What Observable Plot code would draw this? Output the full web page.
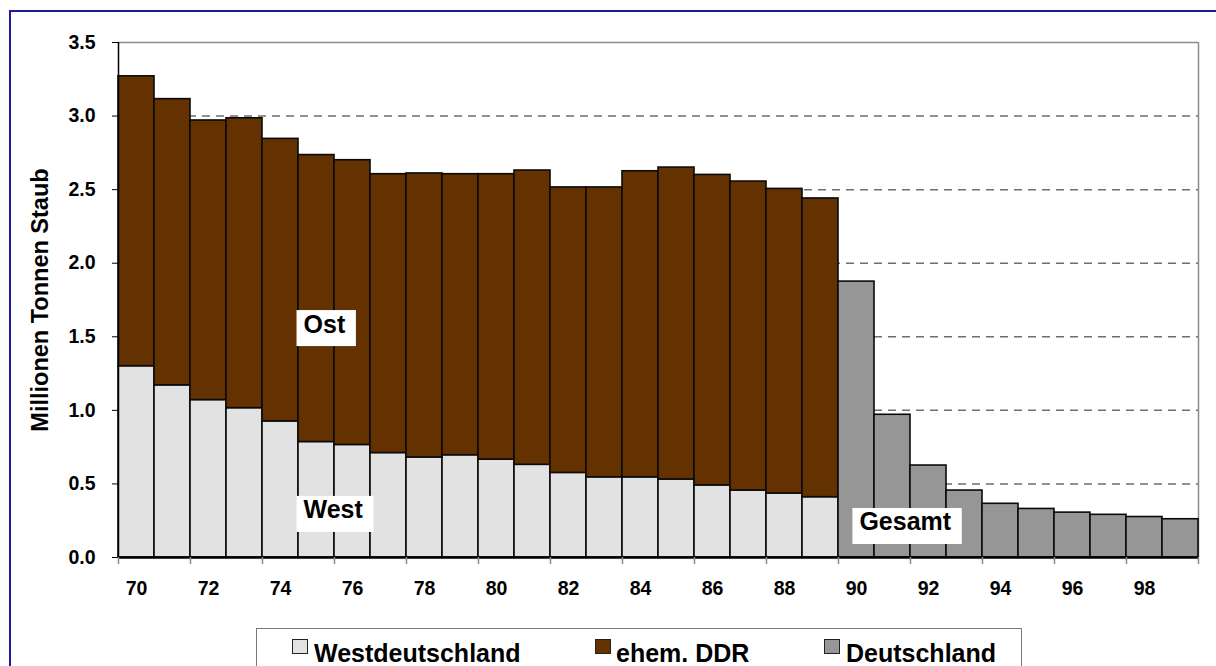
<!DOCTYPE html>
<html>
<head>
<meta charset="utf-8">
<script src="https://cdn.jsdelivr.net/npm/d3@7"></script>
<script src="https://cdn.jsdelivr.net/npm/@observablehq/plot@0.6"></script>
<style>
  body { margin: 0; background: #fff; font-family: "Liberation Sans", Arial, sans-serif; }
  #wrap { position: relative; width: 1216px; height: 666px; overflow: hidden; background: #fff; }
  #frame { position: absolute; left: 9px; top: 10px; width: 1400px; height: 900px;
           border-top: 2px solid #1c1c96; border-left: 2px solid #1c1c96; }
  #chart { position: absolute; left: 0; top: 0; }
  #legend { position: absolute; left: 256px; top: 628px; width: 764px; height: 60px;
            border: 1px solid #7a7a7a; background: #fff; }
  .sw { position: absolute; top: 10px; width: 16px; height: 15px; box-sizing: border-box; border: 1.5px solid #222; }
  .lt { position: absolute; top: 12px; font-size: 25px; line-height: 25px; font-weight: bold; color: #000; white-space: nowrap; }
</style>
</head>
<body>
<div id="wrap">
  <div id="frame"></div>
  <div id="chart"></div>
  <div id="legend"></div>
</div>
<script>
// ---- data ----
const yearsSplit = [1970, 1971, 1972, 1973, 1974, 1975, 1976, 1977, 1978, 1979,
                    1980, 1981, 1982, 1983, 1984, 1985, 1986, 1987, 1988, 1989];
const westValues = [1.30, 1.17, 1.07, 1.015, 0.925, 0.785, 0.765, 0.71, 0.68, 0.695,
                    0.665, 0.63, 0.575, 0.545, 0.545, 0.53, 0.49, 0.455, 0.435, 0.41];
const ostValues  = [1.97, 1.945, 1.90, 1.97, 1.92, 1.95, 1.935, 1.895, 1.93, 1.91,
                    1.94, 2.00, 1.94, 1.97, 2.08, 2.12, 2.11, 2.10, 2.07, 2.03];
const yearsUnified = [1990, 1991, 1992, 1993, 1994, 1995, 1996, 1997, 1998, 1999];
const gesamtValues = [1.875, 0.97, 0.625, 0.455, 0.365, 0.33, 0.305, 0.29, 0.275, 0.26];

const yTicks = [0, 0.5, 1.0, 1.5, 2.0, 2.5, 3.0, 3.5];
const gridTicks = [0.5, 1.0, 1.5, 2.0, 2.5, 3.0];
const xBoundaryTicks = [1970, 1972, 1974, 1976, 1978, 1980, 1982, 1984, 1986, 1988,
                        1990, 1992, 1994, 1996, 1998, 2000];
const xLabelYears = [1970, 1972, 1974, 1976, 1978, 1980, 1982, 1984, 1986, 1988,
                     1990, 1992, 1994, 1996, 1998];
const xLabels = ["70", "72", "74", "76", "78", "80", "82", "84", "86", "88",
                 "90", "92", "94", "96", "98"];

const seriesNames = ["Westdeutschland", "ehem. DDR", "Deutschland"];
const seriesColors = ["#e2e2e2", "#643200", "#969696"];

const labelTexts = ["Ost", "West", "Gesamt"];
const labelX = [1975.14, 1975.14, 1990.58];
const labelY = [1.583, 0.32, 0.238];

const yTitle = "Millionen Tonnen Staub";

// ---- tables ----
const westRows = yearsSplit.map((yr, i) => ({x1: yr, x2: yr + 1, y1: 0, y2: westValues[i]}));
const ostRows = yearsSplit.map((yr, i) => ({x1: yr, x2: yr + 1, y1: westValues[i], y2: westValues[i] + ostValues[i]}));
const gesamtRows = yearsUnified.map((yr, i) => ({x1: yr, x2: yr + 1, y1: 0, y2: gesamtValues[i]}));
const labelRows = labelTexts.map((t, i) => ({t, x: labelX[i], y: labelY[i]}));

const barStroke = {stroke: "#0a0a0a", strokeWidth: 1.6};

const plot = Plot.plot({
  width: 1216,
  height: 620,
  marginLeft: 118,
  marginRight: 18,
  marginTop: 42,
  marginBottom: 63,
  x: {domain: [1970, 2000]},
  y: {domain: [0, 3.5]},
  style: {fontFamily: "'Liberation Sans', Arial, sans-serif", fontWeight: "bold", background: "transparent", overflow: "visible", color: "#000"},
  marks: [
    Plot.ruleY(gridTicks, {stroke: "#6e6e6e", strokeWidth: 1.5, strokeDasharray: "8,6"}),
    Plot.ruleY([3.5], {stroke: "#8c8c8c", strokeWidth: 1.5}),
    Plot.ruleX([2000], {y1: 0, y2: 3.5, stroke: "#8c8c8c", strokeWidth: 1.5}),
    Plot.rect(westRows, {x1: "x1", x2: "x2", y1: "y1", y2: "y2", fill: seriesColors[0], ...barStroke}),
    Plot.rect(ostRows, {x1: "x1", x2: "x2", y1: "y1", y2: "y2", fill: seriesColors[1], ...barStroke}),
    Plot.rect(gesamtRows, {x1: "x1", x2: "x2", y1: "y1", y2: "y2", fill: seriesColors[2], ...barStroke}),
    Plot.ruleX([1970], {y1: 0, y2: 3.5, stroke: "#000", strokeWidth: 1.5}),
    Plot.ruleY([0], {stroke: "#000", strokeWidth: 2.5}),
    Plot.axisY(yTicks, {tickSize: 6, tickPadding: 17, tickFormat: d => d.toFixed(1), fontSize: 19.5, label: null, stroke: "#000"}),
    Plot.axisX(xBoundaryTicks, {tickSize: 7, tickFormat: () => "", label: null, stroke: "#888", strokeWidth: 1.5}),
    Plot.text(xLabelYears, {x: d => d, dx: 18, text: (d, i) => xLabels[i], frameAnchor: "bottom", dy: 37, fontSize: 19.5}),
    Plot.text([yTitle], {text: d => d, frameAnchor: "left", textAnchor: "middle", dx: -78, rotate: -90, fontSize: 23.5}),
    Plot.text(labelRows, {x: "x", y: "y", text: "t", textAnchor: "start", fontSize: 25})
  ]
});
document.getElementById("chart").appendChild(plot);

// white boxes behind the annotation labels
plot.querySelectorAll("text").forEach(t => {
  if (!labelTexts.includes(t.textContent)) return;
  const b = t.getBBox();
  const r = document.createElementNS("http://www.w3.org/2000/svg", "rect");
  r.setAttribute("x", b.x - 7);
  r.setAttribute("y", b.y + 0.5);
  r.setAttribute("width", b.width + 17);
  r.setAttribute("height", b.height + 8);
  r.setAttribute("fill", "#fff");
  const tr = t.getAttribute("transform");
  if (tr) r.setAttribute("transform", tr);
  t.parentNode.insertBefore(r, t);
});

// legend
const legend = document.getElementById("legend");
const swLeft = [35, 338, 567];
const txLeft = [57, 359, 589];
seriesNames.forEach((name, i) => {
  const s = document.createElement("div");
  s.className = "sw";
  s.style.left = swLeft[i] + "px";
  s.style.background = seriesColors[i];
  legend.appendChild(s);
  const t = document.createElement("div");
  t.className = "lt";
  t.style.left = txLeft[i] + "px";
  t.textContent = name;
  legend.appendChild(t);
});
</script>
</body>
</html>
